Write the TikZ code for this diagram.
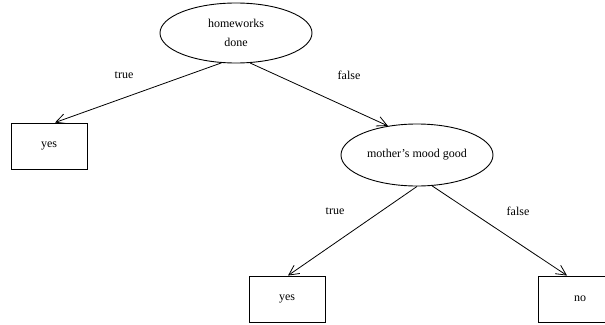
\documentclass[tikz,border=0pt]{standalone}
\usepackage{fontspec}
\setmainfont{Liberation Serif}
\usetikzlibrary{shapes.geometric,arrows.meta}
\begin{document}
\begin{tikzpicture}[x=1pt,y=-1pt,
  every node/.style={font=\fontsize{12}{14}\selectfont},
  dec/.style={draw,ellipse,inner sep=0pt,line width=0.9pt},
  leaf/.style={draw,rectangle,inner sep=0pt,line width=0.9pt,minimum height=46pt},
  lbl/.style={inner sep=0pt},
  edge/.style={line width=0.8pt,-{Straight Barb[length=10pt,width=10pt,line width=0.8pt]}}]
\useasboundingbox (0,0) rectangle (605,324);
\node[dec,minimum width=152pt,minimum height=60pt,align=center] (top) at (236,33) {homeworks\\[5pt]done};
\node[leaf,minimum width=76pt] (yes1) at (49,146) {yes};
\node[dec,minimum width=152pt,minimum height=62pt] (mid) at (417,155) {mother’s mood good};
\node[leaf,minimum width=76pt] (yes2) at (287,299) {yes};
\node[leaf,minimum width=84pt] (no) at (580,299) {no};
\draw[edge] (top.244.6) -- ([xshift=6pt]yes1.north);
\draw[edge] (top.295.4) -- (mid.135.4);
\draw[edge] (mid.270) -- ([xshift=1pt]yes2.north);
\draw[edge] (mid.296) -- ([xshift=-13pt]no.north);
\node[lbl] (t1) at (124,75) {true};
\node[lbl] (f1) at (349,75) {false};
\node[lbl] (t2) at (335,211) {true};
\node[lbl] (f2) at (518,211) {false};
\end{tikzpicture}
\end{document}
